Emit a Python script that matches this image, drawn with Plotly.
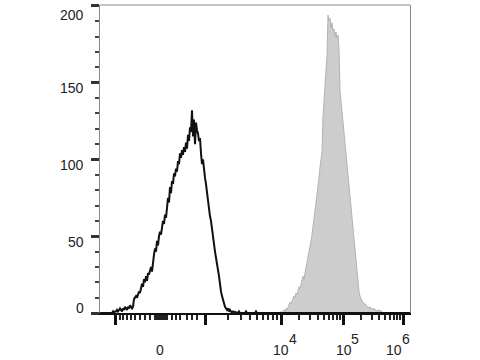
import plotly.graph_objects as go

# Display channel (biexponential display scale, 0..310)
x_range = [0, 310]

# Unstained / isotype control (black line)
black_x = list(range(0, 133))
black_y = [0, 0, 0, 0, 0, 0, 0, 0, 0, 0, 0, 0, 0, 1, 0, 1, 1, 2, 1, 2,
           3, 2, 1, 3, 2, 4, 3, 2, 4, 3, 5, 4, 3, 4, 9, 10, 11, 10, 12, 14,
           13, 16, 19, 17, 22, 20, 24, 21, 26, 25, 28, 30, 27, 34, 38, 42, 40, 47, 44, 50,
           53, 51, 56, 60, 58, 64, 62, 70, 75, 72, 82, 78, 86, 84, 91, 89, 94, 92, 99, 97,
           104, 101, 106, 103, 108, 105, 111, 107, 116, 112, 121, 118, 132, 115, 126, 110, 124, 119, 117, 112,
           114, 104, 97, 100, 92, 88, 84, 78, 74, 70, 63, 60, 54, 50, 44, 40, 36, 33, 28, 24,
           18, 14, 11, 8, 6, 4, 3, 2, 3, 1, 2, 1, 0]
black_tail_x = [133, 138, 139, 140, 145, 146, 147, 155, 156, 157, 310]
black_tail_y = [1, 0, 1, 0, 0, 1, 0, 0, 1, 0, 0]

# Stained sample (grey filled)
grey_x = list(range(180, 284))
grey_y = [0, 1, 0, 1, 2, 1, 3, 2, 4, 5, 7, 6, 8, 9, 11, 10, 13, 12, 15, 17,
          16, 19, 21, 24, 22, 27, 30, 33, 36, 40, 43, 47, 51, 56, 62, 67, 72, 77, 82, 88,
          95, 100, 105, 128, 138, 148, 158, 168, 194, 190, 192, 186, 189, 184, 185, 180, 183, 179, 181, 172,
          145, 138, 130, 122, 115, 108, 102, 97, 92, 84, 76, 70, 63, 55, 47, 40, 32, 25, 18, 14,
          11, 9, 8, 7, 6, 6, 5, 4, 4, 3, 4, 3, 3, 2, 3, 2, 2, 1, 2, 1,
          2, 1, 1, 0]

# Axis ticks (display-channel positions)
x_major = [15, 105, 181, 243, 303]
x_minor = [20, 23, 27, 31, 35, 40, 45, 50, 55, 57, 59, 61, 63, 65, 67, 72, 76, 80, 87, 92, 97,
           128, 141, 150, 157, 163, 168, 173, 177,
           199, 210, 218, 224, 229, 233, 237, 240,
           261, 272, 279, 285, 290, 294, 297, 300]
x_label_pos = [60, 181, 243.5, 294]
x_label_base = ["0", "10", "10", "10"]
x_label_exp = ["", "4", "5", "6"]
x_exp_shift = [0, 12, 11, 12]

y_range = [0, 200.6]
y_ticks = [0, 50, 100, 150, 200]
y_labels = ["0", "50", "100", "150", "200"]
y_label_shift = [5, -6, -5.5, -5, -9]

fig = go.Figure()
fig.add_trace(go.Scatter(
    x=[grey_x[0]] + grey_x + [grey_x[-1]], y=[0] + grey_y + [0],
    mode="lines", fill="tozeroy", fillcolor="#cdcdcd",
    line=dict(color="#b3b3b3", width=1), hoverinfo="skip", showlegend=False))
fig.add_trace(go.Scatter(
    x=black_x + black_tail_x, y=black_y + black_tail_y,
    mode="lines", line=dict(color="#111111", width=2),
    hoverinfo="skip", showlegend=False))

font = dict(family="Liberation Sans, Arial, sans-serif", size=14, color="#222222")

for xp, base, exp, sh in zip(x_label_pos, x_label_base, x_label_exp, x_exp_shift):
    fig.add_annotation(x=xp, y=-0.120, xref="x", yref="paper", text=base,
                       showarrow=False, xanchor="center", yanchor="middle", font=font)
    if exp:
        fig.add_annotation(x=xp, y=-0.086, xref="x", yref="paper", text=exp,
                           xshift=sh, showarrow=False, xanchor="center",
                           yanchor="middle", font=font)

for yv, txt, sh in zip(y_ticks, y_labels, y_label_shift):
    fig.add_annotation(x=0, y=yv, xref="paper", yref="y", text=txt,
                       xshift=-14, yshift=sh, showarrow=False,
                       xanchor="right", yanchor="middle", font=font)

fig.add_shape(type="line", xref="paper", yref="paper", x0=0, x1=1, y0=1, y1=1,
              line=dict(color="#8a8a8a", width=1.2))

fig.update_layout(
    width=480, height=360,
    margin=dict(l=100, r=70, t=5, b=47),
    plot_bgcolor="white", paper_bgcolor="white",
    xaxis=dict(range=x_range, showgrid=False, zeroline=False,
               showline=True, linecolor="#111111", linewidth=2,
               tickmode="array", tickvals=x_major, ticktext=[""] * len(x_major),
               ticks="outside", ticklen=10, tickwidth=2.5, tickcolor="#111111",
               minor=dict(tickmode="array", tickvals=x_minor, ticks="outside",
                          ticklen=5, tickwidth=1.5, tickcolor="#222222")),
    yaxis=dict(range=y_range, showgrid=False, zeroline=False,
               showline=True, linecolor="#8a8a8a", linewidth=1.2, mirror=True,
               tickmode="array", tickvals=y_ticks, showticklabels=False,
               ticks="outside", ticklen=8, tickwidth=2.5, tickcolor="#333333",
               minor=dict(dtick=10, ticks="outside", ticklen=4, tickwidth=1.5,
                          tickcolor="#444444")),
)

fig.write_html("out.html")
